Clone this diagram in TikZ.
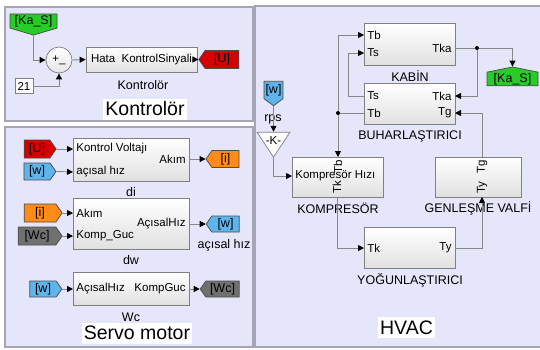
\documentclass[tikz,border=0pt]{standalone}
\usepackage{fontspec}
\setmainfont{Liberation Sans}
\usetikzlibrary{arrows.meta,shapes.symbols,shapes.geometric,shadows}

\definecolor{panelbg}{RGB}{230,230,250}
\definecolor{panelline}{RGB}{165,165,182}
\definecolor{tagred}{RGB}{214,0,0}
\definecolor{taggreen}{RGB}{40,204,40}
\definecolor{tagblue}{RGB}{95,180,235}
\definecolor{tagorange}{RGB}{255,140,25}
\definecolor{taggray}{RGB}{112,112,112}
\definecolor{wiregray}{RGB}{135,135,135}

\tikzset{every picture/.style={line width=0.75pt}}
\tikzset{
  panel/.style={draw=panelline, fill=panelbg, line width=1.5pt},
  blk/.style={draw=black!50, top color=white, bottom color=black!12, inner sep=0pt,
    drop shadow={shadow xshift=1.2pt, shadow yshift=-1.2pt, opacity=0.3}},
  portl/.style={font=\fontsize{11.5}{12}\selectfont, inner sep=3pt},
  bname/.style={font=\fontsize{12.5}{14}\selectfont, inner sep=1pt},
  title/.style={fill=white, font=\fontsize{19.5}{22}\selectfont, inner sep=2pt, minimum height=21},
  tag/.style={signal, draw=black!70, inner sep=1pt, signal pointer angle=110, font=\fontsize{12.5}{13}\selectfont},
  wire/.style={draw=wiregray, line width=0.9pt},
  arr/.style={-{Triangle[length=6pt,width=6pt,color=black]}},
  jdot/.style={circle, fill=black, minimum size=4pt, inner sep=0pt},
}

\begin{document}
\begin{tikzpicture}[x=1pt,y=-1pt]
    \useasboundingbox (0,0) rectangle (540,349);

    % Kontrolor
    \draw[panel] (5,7) rectangle (253,121);
    \node[tag, fill=taggreen, signal to=south, signal pointer angle=147, minimum width=47, minimum height=20] (kas1) at (33.5,21) {[Ka\_S]};
    \node[circle, draw=black!50, top color=white, bottom color=black!10, minimum size=26, inner sep=0pt, font=\fontsize{11.5}{12}\selectfont] (sum) at (59,60) {+\_};
    \node[draw=black!50, fill=white, minimum width=18, minimum height=15, inner sep=0pt, font=\fontsize{11.5}{12}\selectfont] (c21) at (24,86) {21};
    \node[blk, minimum width=111, minimum height=25, font=\fontsize{11.5}{12}\selectfont] (ctrl) at (141.5,59.5) {Hata\ \ KontrolSinyali};
    \node[bname] (ctrlname) at (143,85) {Kontrolör};
    \node[tag, fill=tagred, signal to=west, minimum width=40, minimum height=18] (u1) at (222,59.5) {[U]};
    \node[title] (t1) at (145,109) {Kontrolör};

    \draw[wire,arr] (kas1.south) |- (sum.west);
    \draw[wire,arr] (c21.east) -| (sum.south);
    \draw[wire,arr] (sum.east) -- (ctrl.west);
    \draw[wire,arr] (ctrl.east) -- (u1.west);

    % Servo motor
    \draw[panel] (5,127) rectangle (253,347);
    \node[blk, minimum width=116, minimum height=43] (di) at (131,159.5) {};
    \node[portl, anchor=west] (diV) at (73,149) {Kontrol Voltajı};
    \node[portl, anchor=west] (diW) at (73,172) {açısal hız};
    \node[portl, anchor=east] (diA) at (189,159) {Akım};
    \node[tag, fill=tagred, signal to=east, minimum width=32, minimum height=18] (u2) at (37,149) {[U]};
    \node[tag, fill=tagblue, signal to=east, minimum width=32, minimum height=17] (w1) at (37,171.5) {[w]};
    \node[tag, fill=tagorange, signal to=west, minimum width=33, minimum height=17] (i1) at (225.5,159) {[i]};
    \node[bname] (diname) at (131,192) {di};

    \node[blk, minimum width=116, minimum height=51] (dw) at (131,223.5) {};
    \node[portl, anchor=west] (dwA) at (73,213) {Akım};
    \node[portl, anchor=west] (dwK) at (73,236) {Komp\_Guc};
    \node[portl, anchor=east] (dwH) at (189,224) {AçısalHız};
    \node[tag, fill=tagorange, signal to=east, minimum width=38, minimum height=18] (i2) at (40,213) {[i]};
    \node[tag, fill=taggray, signal to=east, minimum width=44, minimum height=18] (wc1) at (37,236) {[Wc]};
    \node[tag, fill=tagblue, signal to=west, minimum width=33, minimum height=16] (w2) at (225.5,224) {[w]};
    \node[bname] (w2name) at (224,245) {açısal hız};
    \node[bname] (dwname) at (131,260) {dw};

    \node[blk, minimum width=116, minimum height=33] (wc) at (131,288.5) {};
    \node[portl, anchor=west] (wcH) at (73,289) {AçısalHız};
    \node[portl, anchor=east] (wcK) at (189,289) {KompGuc};
    \node[tag, fill=tagblue, signal to=east, minimum width=32, minimum height=16] (w3) at (43,289) {[w]};
    \node[tag, fill=taggray, signal to=west, minimum width=39, minimum height=16] (wc2) at (222.5,289) {[Wc]};
    \node[bname] (wcname) at (131,317) {Wc};
    \node[title] (t2) at (137,333) {Servo motor};

    \draw[wire,arr] (u2.east) -- (diV.west);
    \draw[wire,arr] (w1.east) -- (diW.west);
    \draw[wire,arr] (diA.east) -- (i1.west);
    \draw[wire,arr] (i2.east) -- (dwA.west);
    \draw[wire,arr] (wc1.east) -- (dwK.west);
    \draw[wire,arr] (dwH.east) -- (w2.west);
    \draw[wire,arr] (w3.east) -- (wcH.west);
    \draw[wire,arr] (wcK.east) -- (wc2.west);

    % HVAC
    \draw[panel] (255,6) rectangle (544,347);
    \node[blk, minimum width=91, minimum height=42] (kabin) at (409.5,44) {};
    \node[portl, anchor=west] (kTb) at (364,35) {Tb};
    \node[portl, anchor=west] (kTs) at (364,53) {Ts};
    \node[portl, anchor=east] (kTka) at (455,48) {Tka};
    \node[bname] (kabinname) at (410,76) {KABİN};

    \node[blk, minimum width=91, minimum height=41] (buhar) at (409.5,103.5) {};
    \node[portl, anchor=west] (bTs) at (364,96) {Ts};
    \node[portl, anchor=west] (bTb) at (364,113) {Tb};
    \node[portl, anchor=east] (bTka) at (455,96) {Tka};
    \node[portl, anchor=east] (bTg) at (455,113) {Tg};
    \node[bname] (buharname) at (410,136) {BUHARLAŞTIRICI};

    \node[jdot] (j1) at (477,48) {};
    \node[jdot] (j2) at (338,113) {};
    \node[tag, fill=taggreen, signal to=north, signal pointer angle=157, minimum width=51, minimum height=16] (kas2) at (512.5,79) {[Ka\_S]};

    \node[tag, fill=tagblue, signal to=south, signal pointer angle=107, minimum width=19, minimum height=24] (w4) at (273.5,90) {[w]};
    \node[bname] (rps) at (273,119) {rps};
    \node[isosceles triangle, isosceles triangle stretches, shape border rotate=270, draw=black!50, fill=white, minimum width=33, minimum height=25, inner sep=0pt] (gain) at (273.5,141) {};
    \node[font=\fontsize{11.5}{12}\selectfont, inner sep=0pt] (gaintxt) at (273.5,140.5) {-K-};

    \node[blk, minimum width=91, minimum height=40] (komp) at (337.5,177) {};
    \node[portl, anchor=west] (cHz) at (292,176) {Kompresör Hızı};
    \node[portl, rotate=90, anchor=east] (cTb) at (338,157) {Tb};
    \node[portl, rotate=90, anchor=west] (cTk) at (337,197) {Tk};
    \node[bname] (kompname) at (338,208) {KOMPRESÖR};

    \node[blk, minimum width=86, minimum height=40] (genl) at (478,177) {};
    \node[portl, rotate=90, anchor=east] (gTg) at (482,157) {Tg};
    \node[portl, rotate=90, anchor=west] (gTy) at (482,197) {Ty};
    \node[bname] (genlname) at (478,208) {GENLEŞME VALFİ};

    \node[blk, minimum width=91, minimum height=41] (yogun) at (409.5,247.5) {};
    \node[portl, anchor=west] (yTk) at (364,248) {Tk};
    \node[portl, anchor=east] (yTy) at (455,248) {Ty};
    \node[bname] (yogunname) at (410,280) {YOĞUNLAŞTIRICI};
    \node[title] (t3) at (406.5,327.5) {HVAC};

    \draw[wire] (kTka.east) -- (j1);
    \draw[wire,arr] (j1) -| (kas2.north);
    \draw[wire,arr] (j1) |- (bTka.east);
    \draw[wire,arr] (bTs.west) -- ++(-16,0) |- (kTs.west);
    \draw[wire] (bTb.west) -- (j2);
    \draw[wire,arr] (j2) |- (kTb.west);
    \draw[wire,arr] (j2) -- (cTb.east);
    \draw[wire,arr] (w4.south) -- (gain.north);
    \draw[wire,arr] (gain.south) |- (cHz.west);
    \draw[wire,arr] (cTk.west) |- (yTk.west);
    \draw[wire,arr] (yTy.east) -| (gTy.west);
    \draw[wire,arr] (gTg.east) |- (bTg.east);
\end{tikzpicture}
\end{document}
